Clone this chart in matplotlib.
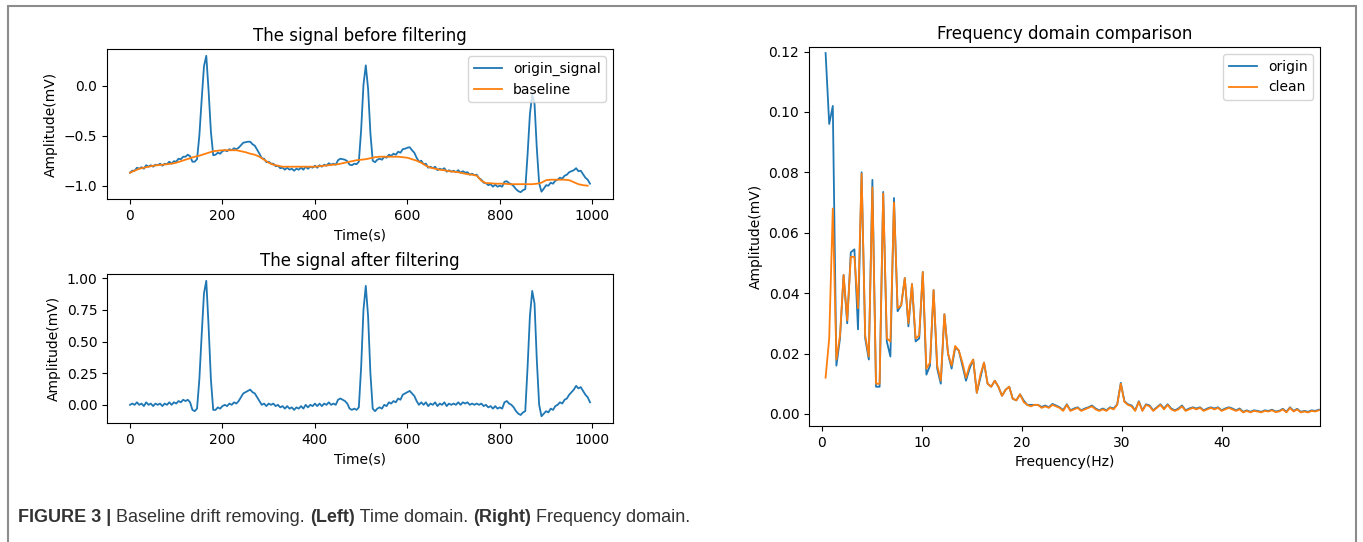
import numpy as np
import matplotlib
matplotlib.use("Agg")
import matplotlib.pyplot as plt
from matplotlib import font_manager
from matplotlib.patches import Rectangle

# time domain: samples every 5 points (0..995), baseline every 10 points
t5 = np.arange(0, 1000, 5)
t10 = np.arange(0, 1000, 10)

origin_signal = [
    -0.87, -0.85, -0.85, -0.82, -0.83, -0.815, -0.83, -0.795, -0.81, -0.795, -0.81, -0.79, -0.795, -0.78, -0.80, -0.78, -0.785, -0.76, -0.78, -0.755,
    -0.76, -0.73, -0.735, -0.71, -0.71, -0.69, -0.705, -0.76, -0.76, -0.735, -0.50, -0.14, 0.195, 0.30, -0.05, -0.46, -0.695, -0.69, -0.67, -0.68,
    -0.655, -0.645, -0.655, -0.635, -0.645, -0.625, -0.635, -0.62, -0.595, -0.57, -0.565, -0.56, -0.56, -0.585, -0.60, -0.64, -0.68, -0.725, -0.73, -0.765,
    -0.76, -0.78, -0.78, -0.805, -0.80, -0.825, -0.82, -0.84, -0.82, -0.84, -0.83, -0.85, -0.83, -0.84, -0.82, -0.84, -0.81, -0.83, -0.81, -0.82,
    -0.80, -0.82, -0.795, -0.81, -0.79, -0.80, -0.775, -0.79, -0.78, -0.79, -0.745, -0.73, -0.735, -0.74, -0.755, -0.79, -0.795, -0.78, -0.785, -0.76,
    -0.44, 0.01, 0.205, -0.03, -0.475, -0.75, -0.765, -0.74, -0.73, -0.74, -0.71, -0.72, -0.69, -0.70, -0.68, -0.69, -0.66, -0.67, -0.635, -0.63,
    -0.62, -0.615, -0.645, -0.67, -0.72, -0.76, -0.75, -0.785, -0.78, -0.82, -0.81, -0.825, -0.81, -0.845, -0.83, -0.84, -0.825, -0.86, -0.845, -0.86,
    -0.85, -0.865, -0.845, -0.87, -0.855, -0.87, -0.865, -0.89, -0.88, -0.895, -0.89, -0.925, -0.94, -0.97, -0.975, -0.995, -0.985, -1.01, -0.99, -1.01,
    -1.00, -1.01, -0.96, -0.955, -0.975, -0.985, -1.005, -1.035, -1.055, -1.065, -1.045, -1.035, -0.685, -0.285, -0.085, -0.18, -0.63, -0.975, -1.06, -1.03,
    -0.995, -1.00, -0.97, -0.98, -0.95, -0.94, -0.92, -0.93, -0.90, -0.89, -0.865, -0.855, -0.845, -0.825, -0.855, -0.85, -0.885, -0.92, -0.94, -0.98,
]

baseline = [
    -0.87, -0.85, -0.83, -0.82, -0.81, -0.80, -0.795, -0.79, -0.785, -0.78,
    -0.77, -0.755, -0.74, -0.725, -0.71, -0.70, -0.685, -0.67, -0.655, -0.65,
    -0.645, -0.645, -0.645, -0.645, -0.655, -0.665, -0.68, -0.69, -0.71, -0.74,
    -0.77, -0.79, -0.80, -0.81, -0.81, -0.81, -0.81, -0.81, -0.81, -0.81,
    -0.81, -0.805, -0.80, -0.795, -0.79, -0.785, -0.775, -0.765, -0.755, -0.745,
    -0.74, -0.735, -0.725, -0.715, -0.71, -0.71, -0.71, -0.71, -0.71, -0.715,
    -0.72, -0.735, -0.75, -0.77, -0.80, -0.82, -0.83, -0.84, -0.845, -0.855,
    -0.86, -0.865, -0.875, -0.885, -0.89, -0.90, -0.95, -0.975, -0.975, -0.98,
    -0.98, -0.98, -0.985, -0.985, -0.985, -0.985, -0.985, -0.985, -0.98, -0.97,
    -0.945, -0.94, -0.94, -0.94, -0.94, -0.945, -0.965, -0.985, -0.995, -1.0,
]

filtered = [
    0.00, 0.01, 0.00, 0.02, 0.00, 0.01, -0.01, 0.02, 0.00, 0.01, -0.01, 0.01, 0.00, 0.01, -0.01, 0.01, 0.00, 0.02, 0.00, 0.02,
    0.01, 0.03, 0.02, 0.04, 0.03, 0.04, 0.02, -0.04, -0.05, -0.03, 0.20, 0.55, 0.88, 0.98, 0.62, 0.20, -0.04, -0.04, -0.02, -0.03,
    -0.01, 0.00, -0.01, 0.01, 0.00, 0.02, 0.01, 0.03, 0.06, 0.09, 0.10, 0.11, 0.12, 0.10, 0.09, 0.06, 0.03, 0.00, 0.01, -0.01,
    0.01, 0.00, 0.01, -0.01, 0.00, -0.02, -0.01, -0.03, -0.01, -0.03, -0.02, -0.04, -0.02, -0.03, -0.01, -0.03, 0.00, -0.02, 0.00, -0.01,
    0.01, -0.01, 0.01, -0.01, 0.01, 0.00, 0.02, 0.00, 0.01, 0.00, 0.04, 0.05, 0.04, 0.03, 0.01, -0.03, -0.04, -0.03, -0.04, -0.02,
    0.30, 0.75, 0.94, 0.70, 0.25, -0.03, -0.05, -0.03, -0.02, -0.03, 0.00, -0.01, 0.02, 0.01, 0.03, 0.02, 0.05, 0.04, 0.08, 0.09,
    0.10, 0.11, 0.09, 0.07, 0.03, 0.00, 0.02, 0.00, 0.02, -0.01, 0.01, 0.00, 0.02, -0.01, 0.01, 0.00, 0.02, -0.01, 0.01, 0.00,
    0.01, 0.00, 0.02, 0.00, 0.02, 0.01, 0.02, 0.00, 0.01, 0.00, 0.01, 0.00, 0.01, -0.01, 0.00, -0.02, -0.01, -0.03, -0.01, -0.03,
    -0.02, -0.03, 0.02, 0.03, 0.01, 0.00, -0.02, -0.05, -0.07, -0.08, -0.06, -0.05, 0.30, 0.70, 0.90, 0.80, 0.35, 0.00, -0.09, -0.07,
    -0.05, -0.06, -0.03, -0.04, -0.01, 0.00, 0.02, 0.01, 0.04, 0.05, 0.08, 0.10, 0.12, 0.15, 0.13, 0.14, 0.11, 0.08, 0.06, 0.02,
]

# frequency domain: bins k = 1..138, 0.36 Hz apart
freq = np.arange(1, 139) * 0.36

spec_origin = [
    0.1195, 0.096, 0.102, 0.016, 0.025, 0.046, 0.030, 0.0535, 0.0545, 0.028,
    0.080, 0.025, 0.018, 0.0775, 0.009, 0.009, 0.0735, 0.024, 0.019, 0.0715,
    0.034, 0.036, 0.045, 0.029, 0.043, 0.024, 0.025, 0.047, 0.013, 0.016,
    0.041, 0.015, 0.010, 0.033, 0.020, 0.015, 0.022, 0.021, 0.016, 0.011,
    0.015, 0.018, 0.007, 0.012, 0.017, 0.010, 0.009, 0.011, 0.009, 0.006,
    0.008, 0.009, 0.005, 0.0045, 0.0065, 0.0045, 0.003, 0.003, 0.003, 0.003,
    0.0023, 0.0028, 0.0022, 0.0033, 0.0028, 0.0022, 0.0013, 0.0032, 0.0012, 0.0018,
    0.0022, 0.0012, 0.0018, 0.0022, 0.0028, 0.0018, 0.0012, 0.0018, 0.0012, 0.0022,
    0.0018, 0.0032, 0.0103, 0.0042, 0.0032, 0.0028, 0.0012, 0.0042, 0.0012, 0.0032,
    0.0028, 0.0012, 0.0022, 0.0032, 0.0018, 0.0032, 0.0018, 0.0012, 0.0018, 0.0028,
    0.0012, 0.0018, 0.0022, 0.0018, 0.0022, 0.0012, 0.0018, 0.0022, 0.0018, 0.0022,
    0.0012, 0.0018, 0.0022, 0.0018, 0.0012, 0.0018, 0.0007, 0.0012, 0.0007, 0.0012,
    0.001, 0.0007, 0.0012, 0.001, 0.0014, 0.0008, 0.001, 0.0017, 0.0007, 0.0022,
    0.001, 0.0017, 0.0007, 0.001, 0.0007, 0.0012, 0.001, 0.0014,
]

spec_clean = [
    0.012, 0.025, 0.068, 0.018, 0.026, 0.046, 0.031, 0.052, 0.052, 0.035,
    0.0795, 0.026, 0.019, 0.075, 0.010, 0.010, 0.073, 0.025, 0.024, 0.070,
    0.035, 0.036, 0.045, 0.030, 0.043, 0.025, 0.026, 0.047, 0.015, 0.017,
    0.041, 0.016, 0.011, 0.033, 0.020, 0.016, 0.0225, 0.021, 0.017, 0.012,
    0.016, 0.018, 0.007, 0.013, 0.017, 0.010, 0.009, 0.011, 0.009, 0.006,
    0.008, 0.009, 0.005, 0.0045, 0.0065, 0.004, 0.003, 0.0025, 0.003, 0.003,
    0.002, 0.0025, 0.002, 0.003, 0.0025, 0.002, 0.001, 0.003, 0.001, 0.0015,
    0.002, 0.001, 0.0015, 0.002, 0.0025, 0.0015, 0.001, 0.0015, 0.001, 0.002,
    0.0015, 0.003, 0.010, 0.004, 0.003, 0.0025, 0.001, 0.004, 0.001, 0.003,
    0.0025, 0.001, 0.002, 0.003, 0.0015, 0.003, 0.0015, 0.001, 0.0015, 0.0025,
    0.001, 0.0015, 0.002, 0.0015, 0.002, 0.001, 0.0015, 0.002, 0.0015, 0.002,
    0.001, 0.0015, 0.002, 0.0015, 0.001, 0.0015, 0.0005, 0.001, 0.0005, 0.001,
    0.0008, 0.0005, 0.001, 0.0008, 0.0012, 0.0006, 0.0008, 0.0015, 0.0005, 0.002,
    0.0008, 0.0015, 0.0005, 0.0008, 0.0005, 0.001, 0.0008, 0.0012,
]

caption_parts = [
    ("FIGURE 3 | ", "bold"),
    ("Baseline drift removing. ", "normal"),
    ("(Left)", "bold"),
    (" Time domain. ", "normal"),
    ("(Right)", "bold"),
    (" Frequency domain.", "normal"),
]

W, H = 1363, 542
fig = plt.figure(figsize=(W / 100, H / 100), dpi=100)

def ax_at(l, t, r, b):
    return fig.add_axes([l / W, 1 - b / H, (r - l) / W, (b - t) / H])

lw = 1.3
fs_title, fs_tick, fs_label = 12, 10, 10

# top left
ax1 = ax_at(107, 49, 613, 199)
ax1.plot(t5, origin_signal, color="#1f77b4", lw=lw, label="origin_signal")
ax1.plot(t10, baseline, color="#ff7f0e", lw=lw, label="baseline")
ax1.set_title("The signal before filtering", fontsize=fs_title)
ax1.set_xlabel("Time(s)", fontsize=fs_label)
ax1.set_ylabel("Amplitude(mV)", fontsize=fs_label)
ax1.set_yticks([0.0, -0.5, -1.0])
ax1.set_xticks([0, 200, 400, 600, 800, 1000])
ax1.tick_params(labelsize=fs_tick)
ax1.legend(loc="upper right", fontsize=fs_label)

# bottom left
ax2 = ax_at(107, 274, 613, 423)
ax2.plot(t5, filtered, color="#1f77b4", lw=lw)
ax2.set_title("The signal after filtering", fontsize=fs_title)
ax2.set_xlabel("Time(s)", fontsize=fs_label)
ax2.set_ylabel("Amplitude(mV)", fontsize=fs_label)
ax2.set_yticks([0.0, 0.25, 0.5, 0.75, 1.0])
ax2.set_yticklabels(["0.00", "0.25", "0.50", "0.75", "1.00"])
ax2.set_xticks([0, 200, 400, 600, 800, 1000])
ax2.tick_params(labelsize=fs_tick)

# right
ax3 = ax_at(809, 47, 1320, 426)
ax3.plot(freq, spec_origin, color="#1f77b4", lw=lw, label="origin")
ax3.plot(freq, spec_clean, color="#ff7f0e", lw=lw, label="clean")
ax3.set_xlim(-1.3, 49.8)
ax3.set_ylim(-0.004, 0.1215)
ax3.set_title("Frequency domain comparison", fontsize=fs_title)
ax3.set_xlabel("Frequency(Hz)", fontsize=fs_label)
ax3.set_ylabel("Amplitude(mV)", fontsize=fs_label)
ax3.set_xticks([0, 10, 20, 30, 40])
ax3.set_yticks([0.0, 0.02, 0.04, 0.06, 0.08, 0.10, 0.12])
ax3.set_yticklabels(["0.00", "0.02", "0.04", "0.06", "0.08", "0.10", "0.12"])
ax3.tick_params(labelsize=fs_tick)
ax3.legend(loc="upper right", fontsize=fs_label)

# outer frame of the figure panel
fig.patches.append(Rectangle((8 / W, -0.05), (1356 - 8) / W, 1.05 - 6 / H,
                             transform=fig.transFigure, fill=False,
                             edgecolor="#8c8c8c", lw=1.5))

# caption
try:
    font_manager.findfont("Liberation Sans Narrow", fallback_to_default=False)
    cap_family = "Liberation Sans Narrow"
except Exception:
    cap_family = "Liberation Sans"

r = fig.canvas.get_renderer()
x = 18 / W
for s, w in caption_parts:
    tx = fig.text(x, 1 - 518 / H, s, fontsize=13, fontweight=w, family=cap_family,
                  color="#333333", va="center", ha="left")
    x += tx.get_window_extent(renderer=r).width / W

fig.savefig("out.png", dpi=100)
